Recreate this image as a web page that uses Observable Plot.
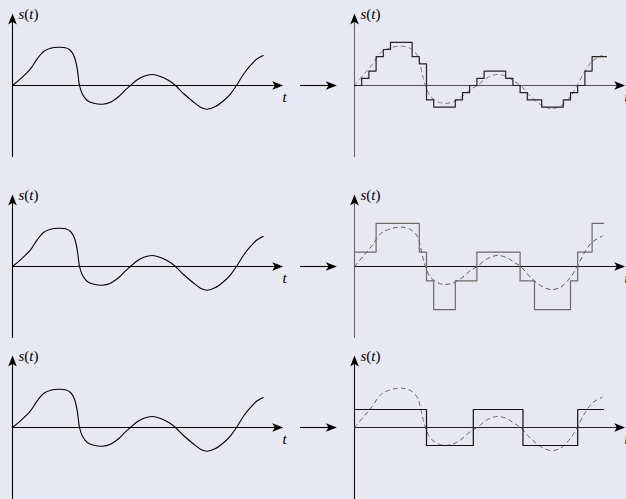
<!DOCTYPE html>
<html><head><meta charset="utf-8">
<script src="https://cdn.jsdelivr.net/npm/d3@7"></script>
<script src="https://cdn.jsdelivr.net/npm/@observablehq/plot@0.6"></script>
<style>
html,body{margin:0;padding:0;background:#e8e8f2;}
#fig{position:relative;width:626px;height:499px;overflow:hidden;background:#e8e8f2;}
#fig svg{position:absolute;overflow:hidden;}
#fig svg text{font-family:"Liberation Serif",serif !important;font-size:15px;}
</style></head><body><div id="fig"></div>
<script>
// ---- data (t in sampling periods, s in fine quantisation steps) ----
const signalT = [0,1.1,2.5,3.43,4.35,5.28,6.43,7.36,8.06,8.61,8.99,9.31,9.68,10.38,11.29,12.46,13.61,14.76,15.69,16.39,17.32,18.24,19.4,20.56,21.71,22.64,23.79,25.18,26.11,27.04,28.19,29.35,30.28,31.11,32.13,33.06,33.99,34.82];
const signalS = [0,0.93,2.3,3.7,4.76,5.18,5.32,5.24,4.86,3.93,2.32,0,-1.15,-2.08,-2.46,-2.6,-2.32,-1.53,-0.6,0,0.79,1.29,1.53,1.25,0.69,0,-1.15,-2.32,-3.01,-3.29,-2.92,-2.08,-1.15,0,1.63,2.78,3.71,4.17];

const refT = [0,1.29,2.46,3.61,5.0,6.63,8.01,8.79,9.17,9.54,9.86,10.56,11.94,13.33,14.72,16.11,17.04,18.43,19.82,21.21,22.13,23.06,24.44,25.83,27.22,28.61,30.0,30.93,31.85,33.01,34.4];
const refS = [0,1.53,2.92,4.54,5.24,5.46,5.0,4.07,2.68,1.07,0,-1.49,-2.4,-2.4,-1.71,-0.56,0,1.07,1.53,1.21,0.6,0,-1.49,-2.64,-3.19,-2.88,-1.49,0,1.76,3.38,4.21];

const stair1T = [0,1,2,3,4,5,8,9,10,11,14,15,16,17,18,21,22,23,24,26,29,30,31,32,33,35];
const stair1S = [0,1,2,4,5,6,4,3,-2,-3,-2,-1,0,1,2,1,0,-1,-2,-3,-2,-1,0,2,4,4];

const stair2T = [0,3,9,10,11,14,17,23,25,30,31,33,34.6];
const stair2S = [2,6,2,-2,-6,-2,2,-2,-6,-2,2,6,6];

const stair3T = [0,10,16.5,23.4,31,34.6];
const stair3S = [2.5,-2.5,2.5,-2.5,2.5,2.5];

const yLabel = "s(t)";
const xLabel = "t";

// ---- helpers ----
const zip = (T, S) => T.map((t, i) => ({t, s: S[i]}));
const signal = zip(signalT, signalS);
const ref = zip(refT, refS);
const stairs = [zip(stair1T, stair1S), zip(stair2T, stair2S), zip(stair3T, stair3S)];

const PX = 7.2;                  // pixels per unit
const rowAxisY = [85, 266, 427]; // vertical placement of each row
const tipT = 37.6, topS = 10, botS = -10;
const linkFrom = -7.5, linkTo = -2.45;

const stealth = {draw(ctx) {
  ctx.moveTo(0, 0); ctx.lineTo(-11, -4.3); ctx.lineTo(-8.3, 0); ctx.lineTo(-11, 4.3); ctx.closePath();
}};

const fig = document.getElementById("fig");
const serif = "Liberation Serif";

function axesMarks(xc, yc, link) {
  const m = [
    Plot.ruleY([0], {x1: 0, x2: tipT - 0.9, stroke: xc, strokeWidth: 1.1}),
    Plot.ruleX([0], {y1: botS, y2: topS - 0.9, stroke: yc, strokeWidth: 1.1}),
    Plot.dot([{t: tipT, s: 0, r: 0}, {t: 0, s: topS, r: -90}], {x: "t", y: "s", rotate: "r", symbol: stealth, fill: "black", stroke: "none"}),
    Plot.text([{t: 0, s: 9.85}], {x: "t", y: "s", text: () => yLabel, dx: 6, textAnchor: "start", lineAnchor: "middle", fontFamily: serif, fontSize: 15, fill: "black"}),
    Plot.text([{t: tipT - 0.1, s: -1.6}], {x: "t", y: "s", text: () => xLabel, textAnchor: "start", lineAnchor: "middle", fontFamily: serif, fontSize: 15, fontStyle: "italic", fill: "black"})
  ];
  if (link) {
    m.push(Plot.ruleY([0], {x1: linkFrom, x2: linkTo - 0.9, stroke: "black", strokeWidth: 1.1}));
    m.push(Plot.dot([{t: linkTo, s: 0}], {x: "t", y: "s", symbol: stealth, fill: "black", stroke: "none"}));
  }
  return m;
}

function panel(left, width, axisY, originX, marks) {
  const svg = Plot.plot({
    width, height: 160, margin: 0,
    x: {domain: [(left - originX) / PX, (left + width - originX) / PX], axis: null},
    y: {domain: [-80 / PX, 80 / PX], axis: null},
    style: {background: "transparent", overflow: "hidden"},
    marks
  });
  svg.style.left = left + "px";
  svg.style.top = (axisY - 80) + "px";
  svg.style.maxWidth = "none";
  d3.select(svg).selectAll("text").each(function() {
    if (this.textContent === yLabel) {
      this.textContent = "";
      const a = d3.select(this);
      a.append("tspan").attr("font-style", "italic").text("s");
      a.append("tspan").text("(");
      a.append("tspan").attr("font-style", "italic").text("t");
      a.append("tspan").text(")");
    }
  });
  fig.append(svg);
}

const rightStyle = [
  {xc: "#555", yc: "#666", stair: "#222", dash: "#777"},
  {xc: "#111", yc: "#666", stair: "#6a6a6a", dash: "#555"},
  {xc: "#222", yc: "#111", stair: "#111", dash: "#666"}
];

rowAxisY.forEach((ay, i) => {
  panel(0, 300, ay, 12, [
    ...axesMarks("black", "black", false),
    Plot.line(signal, {x: "t", y: "s", curve: "catmull-rom", stroke: "black", strokeWidth: 1.1})
  ]);
  const st = rightStyle[i];
  panel(290, 336, ay, 354, [
    ...axesMarks(st.xc, st.yc, true),
    Plot.line(ref, {x: "t", y: "s", curve: "catmull-rom", stroke: st.dash, strokeWidth: 1, strokeDasharray: "4,4"}),
    Plot.line(stairs[i], {x: "t", y: "s", curve: "step-after", stroke: st.stair, strokeWidth: 1.2})
  ]);
});
</script></body></html>
